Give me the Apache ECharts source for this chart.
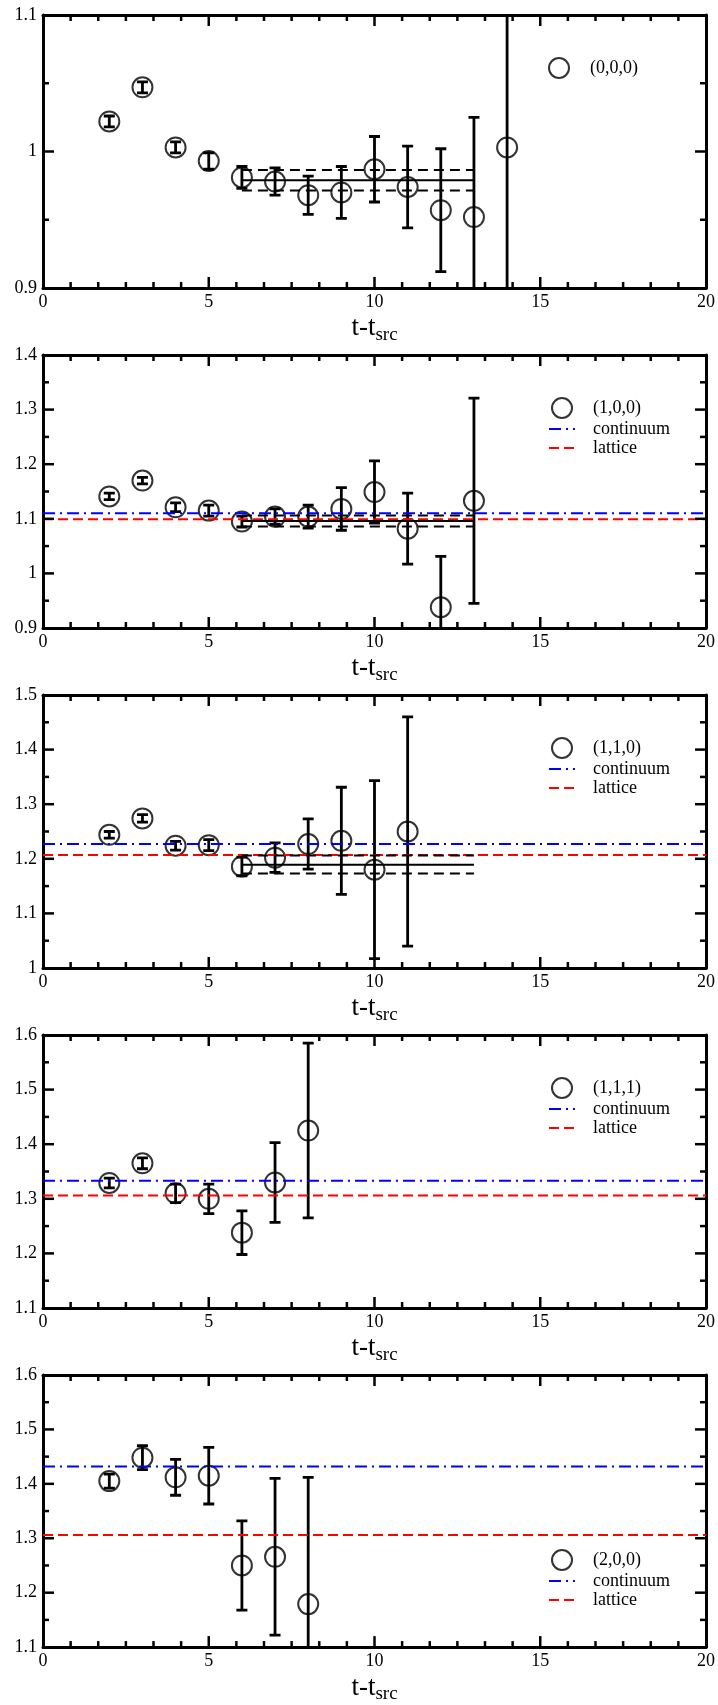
<!DOCTYPE html>
<html><head><meta charset="utf-8">
<script src="https://cdn.jsdelivr.net/npm/echarts@6/dist/echarts.min.js"></script>
<style>html,body{margin:0;padding:0;background:#fff}#c{width:718px;height:1705px}</style>
</head><body><div id="c"></div>
<script>
// ---- data ----
const panelNames = ['(0,0,0)', '(1,0,0)', '(1,1,0)', '(1,1,1)', '(2,0,0)'];
const yMins = [0.9, 0.9, 1.0, 1.1, 1.1];
const yMaxs = [1.1, 1.4, 1.5, 1.6, 1.6];

const t1 = [2,3,4,5,6,7,8,9,10,11,12,13,14];
const v1 = [1.022,1.047,1.003,0.993,0.981,0.978,0.968,0.970,0.987,0.974,0.957,0.952,1.003];
const e1 = [0.004,0.004,0.004,0.006,0.008,0.010,0.014,0.019,0.024,0.030,0.045,0.073,0.150];

const t2 = [2,3,4,5,6,7,8,9,10,11,12,13];
const v2 = [1.141,1.170,1.121,1.115,1.095,1.104,1.104,1.118,1.149,1.082,0.938,1.133];
const e2 = [0.006,0.006,0.008,0.010,0.010,0.014,0.021,0.039,0.057,0.065,0.093,0.188];

const t3 = [2,3,4,5,6,7,8,9,10,11];
const v3 = [1.244,1.274,1.224,1.225,1.186,1.202,1.227,1.233,1.180,1.250];
const e3 = [0.006,0.007,0.008,0.010,0.017,0.027,0.046,0.098,0.163,0.210];

const t4 = [2,3,4,5,6,7,8];
const v4 = [1.329,1.365,1.310,1.300,1.238,1.330,1.425];
const e4 = [0.009,0.010,0.017,0.027,0.040,0.073,0.160];

const t5 = [2,3,4,5,6,7,8];
const v5 = [1.405,1.448,1.412,1.415,1.250,1.266,1.179];
const e5 = [0.013,0.022,0.033,0.052,0.082,0.144,0.233];

// fits: [center, upper, lower] over t range
const fitRange = [6, 13];
const fit1 = [0.979, 0.9865, 0.9715];
const fit2 = [1.096, 1.106, 1.086];
const fit3 = [1.189, 1.206, 1.173];

const continuumVals = [null, 1.110, 1.227, 1.333, 1.432];
const latticeVals   = [null, 1.099, 1.207, 1.306, 1.306];
const xRange = [0, 20];
const xMajorStep = 5, xMinorPerMajor = 6, yMajorStep = 0.1, yMinorPerMajor = 2;

// ---- build ----
const panels = [
  {t: t1, v: v1, e: e1, fit: fit1},
  {t: t2, v: v2, e: e2, fit: fit2},
  {t: t3, v: v3, e: e3, fit: fit3},
  {t: t4, v: v4, e: e4, fit: null},
  {t: t5, v: v5, e: e5, fit: null}
];
const FONT = 'Liberation Serif';
const mkLine = () => ({show: true, onZero: false, lineStyle: {color: '#000', width: 3}});
const grids = [], xAxes = [], yAxes = [], series = [], legends = [];

// tick values along the axes (major flag 1 / minor 0)
function tickList(lo, hi, major, perMajor) {
  const out = [];
  const step = major / perMajor;
  const n = Math.round((hi - lo) / step);
  for (let j = 1; j < n; j++) out.push([lo + j * step, j % perMajor === 0 ? 1 : 0]);
  return out;
}

panels.forEach((p, k) => {
  const top = 15 + 340 * k;
  const yLo = yMins[k], yHi = yMaxs[k];
  grids.push({left: 43, width: 664, top: top, height: 273, show: false});
  xAxes.push({type: 'value', gridIndex: k, position: 'bottom', min: xRange[0], max: xRange[1], interval: xMajorStep,
    axisLine: mkLine(), axisTick: {show: false}, minorTick: {show: false},
    splitLine: {show: false}, minorSplitLine: {show: false},
    axisLabel: {show: true, fontFamily: FONT, fontSize: 18, color: '#000', margin: 5},
    name: '{a|t-t}{b|src}', nameLocation: 'middle', nameGap: 24,
    nameTextStyle: {rich: {
      a: {fontFamily: FONT, fontSize: 27, lineHeight: 27, color: '#000', verticalAlign: 'top'},
      b: {fontFamily: FONT, fontSize: 19, lineHeight: 19, color: '#000', padding: [14, 0, 0, 0]}}}});
  xAxes.push({type: 'value', gridIndex: k, position: 'top', min: xRange[0], max: xRange[1], interval: xMajorStep,
    axisLine: mkLine(), axisTick: {show: false}, minorTick: {show: false},
    splitLine: {show: false}, minorSplitLine: {show: false}, axisLabel: {show: false}});
  yAxes.push({type: 'value', gridIndex: k, position: 'left', min: yLo, max: yHi, interval: yMajorStep,
    axisLine: mkLine(), axisTick: {show: false}, minorTick: {show: false},
    splitLine: {show: false}, minorSplitLine: {show: false},
    axisLabel: {show: true, fontFamily: FONT, fontSize: 18, color: '#000', margin: 6}});
  yAxes.push({type: 'value', gridIndex: k, position: 'right', min: yLo, max: yHi, interval: yMajorStep,
    axisLine: mkLine(), axisTick: {show: false}, minorTick: {show: false},
    splitLine: {show: false}, minorSplitLine: {show: false}, axisLabel: {show: false}});

  const i = 2 * k;

  // inward ticks on all four sides, placed through the axis scales
  const tickData = tickList(xRange[0], xRange[1], xMajorStep, xMinorPerMajor).map(d => [0, d[0], d[1]])
    .concat(tickList(yLo, yHi, yMajorStep, yMinorPerMajor).map(d => [1, d[0], d[1]]));
  series.push({type: 'custom', name: 'ticks' + k, xAxisIndex: i, yAxisIndex: i, clip: false, silent: true,
    data: tickData, z: 5,
    renderItem: function (params, api) {
      const kind = api.value(0), val = api.value(1), major = api.value(2);
      const L = major ? 11 : 6;
      let s1, s2;
      if (kind === 0) {
        const b = api.coord([val, yLo]), t = api.coord([val, yHi]);
        s1 = {x1: b[0], y1: b[1], x2: b[0], y2: b[1] - L};
        s2 = {x1: t[0], y1: t[1], x2: t[0], y2: t[1] + L};
      } else {
        const l = api.coord([xRange[0], val]), r = api.coord([xRange[1], val]);
        s1 = {x1: l[0], y1: l[1], x2: l[0] + L, y2: l[1]};
        s2 = {x1: r[0], y1: r[1], x2: r[0] - L, y2: r[1]};
      }
      return {type: 'group', children: [
        {type: 'line', shape: s1, style: {stroke: '#000', lineWidth: 2.5}},
        {type: 'line', shape: s2, style: {stroke: '#000', lineWidth: 2.5}}
      ]};
    }});

  const legendData = [{name: panelNames[k]}];
  if (continuumVals[k] != null) {
    series.push({type: 'line', name: 'continuum', xAxisIndex: i, yAxisIndex: i,
      data: [[xRange[0], continuumVals[k]], [xRange[1], continuumVals[k]]], symbol: 'none',
      lineStyle: {color: '#0000ff', width: 2, type: [12, 5, 2, 5]}, itemStyle: {color: '#0000ff'}});
    series.push({type: 'line', name: 'lattice', xAxisIndex: i, yAxisIndex: i,
      data: [[xRange[0], latticeVals[k]], [xRange[1], latticeVals[k]]], symbol: 'none',
      lineStyle: {color: '#ff0000', width: 2, type: [10, 5]}, itemStyle: {color: '#ff0000'}});
    legendData.push({name: 'continuum', itemStyle: {opacity: 0}}, {name: 'lattice', itemStyle: {opacity: 0}});
  }
  if (p.fit) {
    p.fit.forEach((fv, j) => {
      series.push({type: 'line', name: 'fit' + k + '_' + j, xAxisIndex: i, yAxisIndex: i,
        data: [[fitRange[0], fv], [fitRange[1], fv]], symbol: 'none',
        lineStyle: {color: '#000', width: 2, type: j === 0 ? 'solid' : [10, 6]}});
    });
  }
  series.push({type: 'custom', name: 'err' + k, xAxisIndex: i, yAxisIndex: i, clip: true,
    data: p.t.map((t, n) => [t, p.v[n], p.e[n]]),
    renderItem: function (params, api) {
      const x = api.value(0), y = api.value(1), e = api.value(2);
      const a = api.coord([x, y + e]), b = api.coord([x, y - e]);
      const c = 5.5;
      return {type: 'polyline', shape: {points: [
        [a[0] - c, a[1]], [a[0] + c, a[1]], [a[0], a[1]], [b[0], b[1]], [b[0] - c, b[1]], [b[0] + c, b[1]]
      ]}, style: {stroke: '#000', lineWidth: 2.8, fill: null}};
    }});
  series.push({type: 'scatter', name: panelNames[k], xAxisIndex: i, yAxisIndex: i,
    data: p.t.map((t, n) => [t, p.v[n]]), symbol: 'circle', symbolSize: 20,
    itemStyle: {color: 'rgba(0,0,0,0)', borderColor: '#000', borderWidth: 2}});

  legends.push({data: legendData, orient: 'vertical', left: 548, top: k === 4 ? top + 174 : top + 42, padding: 0,
    itemWidth: 26, itemHeight: 20, itemGap: 1,
    textStyle: {fontFamily: FONT, fontSize: 18, color: '#000', padding: [0, 0, 0, 13]}});
});

const chart = echarts.init(document.getElementById('c'));
chart.setOption({animation: false, backgroundColor: '#fff', grid: grids, xAxis: xAxes, yAxis: yAxes, series: series, legend: legends});
</script>
</body></html>
